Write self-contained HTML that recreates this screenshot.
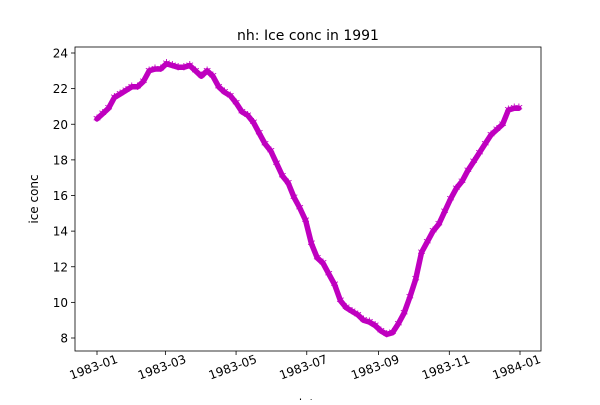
<!DOCTYPE html>
<html><head><meta charset="utf-8"><style>
body{margin:0;background:#fff;font-family:"Liberation Sans","DejaVu Sans",sans-serif}
svg text{font-family:"DejaVu Sans","Liberation Sans",sans-serif}
</style></head><body>
<svg id="c" width="600" height="400" viewBox="0 0 600 400">
<rect x="0" y="0" width="600" height="400" fill="#fff"/>
<text x="308" y="40" text-anchor="middle" font-size="14">nh: Ice conc in 1991</text>
<g id="plot"></g>
<rect x="75" y="47" width="466" height="304" fill="none" stroke="#000" stroke-width="0.8"/>
<text x="38" y="199" text-anchor="middle" font-size="12" transform="rotate(-90 38 199)">ice conc</text>
<text x="308" y="408" text-anchor="middle" font-size="12">date</text>
</svg>
<script>
const dayStep = 5;
const values = [20.3,20.6,20.9,21.5,21.7,21.9,22.1,22.1,22.4,23.0,23.1,23.1,23.4,23.3,23.2,23.2,23.3,23.0,22.7,23.0,22.7,22.1,21.8,21.6,21.2,20.7,20.5,20.1,19.5,18.9,18.5,17.8,17.1,16.7,15.9,15.3,14.6,13.3,12.5,12.2,11.6,11.0,10.1,9.7,9.5,9.3,9.0,8.9,8.7,8.4,8.2,8.3,8.8,9.4,10.3,11.3,12.8,13.4,14.0,14.4,15.1,15.8,16.4,16.8,17.4,17.9,18.4,18.9,19.4,19.7,20.0,20.8,20.9,20.9];
const yTicks = [8,10,12,14,16,18,20,22,24];
const xTickDays = [0,59,120,181,243,304,365];
const xTickLabels = ["1983-01","1983-03","1983-05","1983-07","1983-09","1983-11","1984-01"];
const NS="http://www.w3.org/2000/svg";
const X = d => 97 + Math.min(d,364)*(423/365);
const Y = v => 338 - (v-8)*(285/16);
const g = document.getElementById('plot');
function mk(t,a){const e=document.createElementNS(NS,t);for(const k in a)e.setAttribute(k,a[k]);return e;}
yTicks.forEach(v=>{
  const l=mk('line',{x1:75,x2:71,y1:Y(v),y2:Y(v),stroke:'#000','stroke-width':0.8});
  
  
  g.appendChild(l);
  const t=mk('text',{x:68,y:Y(v)+4.5,'text-anchor':'end','font-size':12});
  t.textContent=v;
  
  
  g.appendChild(t);
});
xTickDays.forEach((d,i)=>{
  const x=97 + d*(423/365);
  const l=mk('line',{x1:x,x2:x,y1:351,y2:355,stroke:'#000','stroke-width':0.8});
  
  
  g.appendChild(l);
  const t=mk('text',{x:x-2,y:371,'text-anchor':'middle','font-size':12,transform:`rotate(-20 ${x-2} 371)`});
  t.textContent=xTickLabels[i];
  
  
  g.appendChild(t);
});
const pts=values.map((v,i)=>X(i*dayStep).toFixed(1)+','+Y(v).toFixed(1)).join(' ');
const pl=mk('polyline',{points:pts,fill:'none',stroke:'#bf00bf','stroke-width':5.5,'stroke-linejoin':'round','stroke-linecap':'round'});


g.appendChild(pl);
values.forEach((v,i)=>{
  const t=mk('text',{x:X(i*dayStep),y:Y(v)+7,'text-anchor':'middle','font-size':16,fill:'#bf00bf'});
  t.textContent='*';
  
  
  g.appendChild(t);
});
</script>
</body></html>
